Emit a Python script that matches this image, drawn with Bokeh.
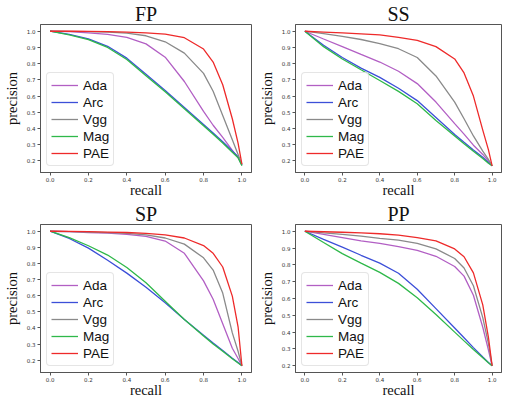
from bokeh.plotting import figure
from bokeh.layouts import gridplot
from bokeh.models import FixedTicker, PrintfTickFormatter, Range1d
from bokeh.embed import file_html
from bokeh.resources import INLINE

RECALL = [0.0, 0.1, 0.2, 0.3, 0.4, 0.5, 0.6, 0.7, 0.8, 0.85, 0.9, 0.95, 0.98, 1.0]
SERIES = ["Ada", "Arc", "Vgg", "Mag", "PAE"]
COLORS = {"Ada": "#b25fc4", "Arc": "#3c4fd8", "Vgg": "#8a8a8a", "Mag": "#2fb84a", "PAE": "#ee2a2a"}

FP_ADA = [1.0, 0.998, 0.99, 0.98, 0.962, 0.922, 0.84, 0.69, 0.505, 0.42, 0.345, 0.265, 0.22, 0.175]
FP_ARC = [1.0, 0.98, 0.953, 0.907, 0.834, 0.735, 0.635, 0.53, 0.425, 0.372, 0.318, 0.262, 0.226, 0.175]
FP_VGG = [1.0, 0.999, 0.997, 0.994, 0.988, 0.972, 0.935, 0.865, 0.74, 0.63, 0.48, 0.33, 0.24, 0.178]
FP_MAG = [1.0, 0.978, 0.948, 0.9, 0.826, 0.726, 0.626, 0.522, 0.417, 0.364, 0.31, 0.254, 0.22, 0.17]
FP_PAE = [1.0, 1.0, 0.999, 0.998, 0.995, 0.99, 0.982, 0.96, 0.89, 0.81, 0.67, 0.46, 0.31, 0.18]

SS_ADA = [1.0, 0.952, 0.905, 0.857, 0.81, 0.753, 0.677, 0.563, 0.43, 0.365, 0.297, 0.24, 0.2, 0.17]
SS_ARC = [1.0, 0.914, 0.838, 0.772, 0.715, 0.648, 0.572, 0.468, 0.363, 0.315, 0.268, 0.222, 0.19, 0.17]
SS_VGG = [1.0, 0.985, 0.968, 0.949, 0.924, 0.892, 0.838, 0.724, 0.563, 0.46, 0.354, 0.26, 0.21, 0.17]
SS_MAG = [1.0, 0.905, 0.829, 0.762, 0.696, 0.629, 0.553, 0.449, 0.354, 0.306, 0.259, 0.215, 0.186, 0.17]
SS_PAE = [1.0, 0.995, 0.99, 0.984, 0.977, 0.962, 0.943, 0.905, 0.829, 0.743, 0.6, 0.39, 0.27, 0.17]

SP_ADA = [1.0, 0.997, 0.992, 0.988, 0.981, 0.968, 0.939, 0.863, 0.692, 0.578, 0.426, 0.274, 0.21, 0.165]
SP_ARC = [1.0, 0.955, 0.895, 0.82, 0.74, 0.652, 0.556, 0.452, 0.355, 0.306, 0.26, 0.212, 0.185, 0.165]
SP_VGG = [1.0, 0.998, 0.995, 0.991, 0.987, 0.977, 0.958, 0.92, 0.835, 0.759, 0.616, 0.369, 0.255, 0.165]
SP_MAG = [1.0, 0.96, 0.91, 0.852, 0.775, 0.68, 0.566, 0.452, 0.35, 0.3, 0.255, 0.208, 0.182, 0.165]
SP_PAE = [1.0, 0.999, 0.998, 0.995, 0.992, 0.987, 0.977, 0.958, 0.911, 0.863, 0.778, 0.597, 0.407, 0.165]

PP_ADA = [1.0, 0.981, 0.962, 0.943, 0.928, 0.909, 0.886, 0.851, 0.79, 0.733, 0.619, 0.429, 0.295, 0.2]
PP_ARC = [1.0, 0.952, 0.905, 0.857, 0.81, 0.75, 0.655, 0.54, 0.425, 0.367, 0.308, 0.252, 0.22, 0.2]
PP_VGG = [1.0, 0.99, 0.981, 0.971, 0.958, 0.947, 0.928, 0.895, 0.838, 0.781, 0.676, 0.486, 0.333, 0.2]
PP_MAG = [1.0, 0.933, 0.867, 0.81, 0.755, 0.69, 0.605, 0.505, 0.4, 0.348, 0.297, 0.248, 0.218, 0.2]
PP_PAE = [1.0, 0.997, 0.994, 0.99, 0.985, 0.977, 0.962, 0.943, 0.895, 0.848, 0.752, 0.562, 0.371, 0.2]

PANELS = [
    ("FP", {"Ada": FP_ADA, "Arc": FP_ARC, "Vgg": FP_VGG, "Mag": FP_MAG, "PAE": FP_PAE}),
    ("SS", {"Ada": SS_ADA, "Arc": SS_ARC, "Vgg": SS_VGG, "Mag": SS_MAG, "PAE": SS_PAE}),
    ("SP", {"Ada": SP_ADA, "Arc": SP_ARC, "Vgg": SP_VGG, "Mag": SP_MAG, "PAE": SP_PAE}),
    ("PP", {"Ada": PP_ADA, "Arc": PP_ARC, "Vgg": PP_VGG, "Mag": PP_MAG, "PAE": PP_PAE}),
]
X_TICKS = [0.0, 0.2, 0.4, 0.6, 0.8, 1.0]
Y_TICKS = [0.2, 0.3, 0.4, 0.5, 0.6, 0.7, 0.8, 0.9, 1.0]
WIDTHS = [255, 252]

figs = []
for i, (name, data) in enumerate(PANELS):
    ymin = min(min(v) for v in data.values())
    ymax = max(max(v) for v in data.values())
    span = ymax - ymin
    p = figure(width=WIDTHS[i % 2], height=200, output_backend="svg", toolbar_location=None,
               x_range=Range1d(-0.05, 1.05),
               y_range=Range1d(ymin - 0.05 * span, ymax + 0.05 * span),
               min_border_left=(31 if i % 2 == 0 else 26), min_border_right=(4 if i % 2 == 0 else 6),
               min_border_top=0, min_border_bottom=0)
    p.title.text = name
    p.title.text_font = "Liberation Serif"
    p.title.text_font_size = "20px"
    p.title.text_font_style = "normal"
    p.title.align = "center"
    p.title.text_color = "#111111"
    p.title.standoff = 0
    p.title.offset = 0
    for s in SERIES:
        p.line(RECALL, data[s], line_color=COLORS[s], line_width=1.3, legend_label=s)
    p.grid.visible = False
    p.outline_line_color = "#555555"
    p.outline_line_width = 1
    for ax in (p.xaxis[0], p.yaxis[0]):
        ax.axis_line_color = "#555555"
        ax.major_tick_line_color = "#555555"
        ax.major_tick_out = 3
        ax.major_tick_in = 0
        ax.minor_tick_line_color = None
        ax.major_label_text_font = "DejaVu Sans"
        ax.major_label_text_font_size = "5.5px"
        ax.major_label_text_color = "#333333"
        ax.major_label_standoff = 2
        ax.axis_label_text_font = "Liberation Serif"
        ax.axis_label_text_font_size = "14.5px"
        ax.axis_label_text_font_style = "normal"
        ax.axis_label_text_color = "#111111"
        ax.formatter = PrintfTickFormatter(format="%.1f")
    p.xaxis.axis_label_standoff = -3
    p.xaxis.major_label_standoff = 1
    p.yaxis.axis_label_standoff = 4
    p.xaxis.ticker = FixedTicker(ticks=X_TICKS)
    p.yaxis.ticker = FixedTicker(ticks=Y_TICKS)
    p.xaxis.axis_label = "recall"
    p.yaxis.axis_label = "precision"
    lg = p.legend[0]
    lg.location = "bottom_left"
    lg.label_text_font = "Liberation Sans"
    lg.label_text_font_size = "13.5px"
    lg.label_text_color = "#111111"
    lg.glyph_width = 27
    lg.glyph_height = 16
    lg.label_height = 16
    lg.label_standoff = 5
    lg.spacing = 1
    lg.padding = 4
    lg.margin = 6
    lg.border_line_color = "#cccccc"
    lg.background_fill_alpha = 0.85
    if "border_radius" in lg.properties():
        lg.border_radius = 4
    figs.append(p)

grid = gridplot([[figs[0], figs[1]], [figs[2], figs[3]]], toolbar_location=None)
open("out.html", "w").write(file_html(grid, INLINE))
